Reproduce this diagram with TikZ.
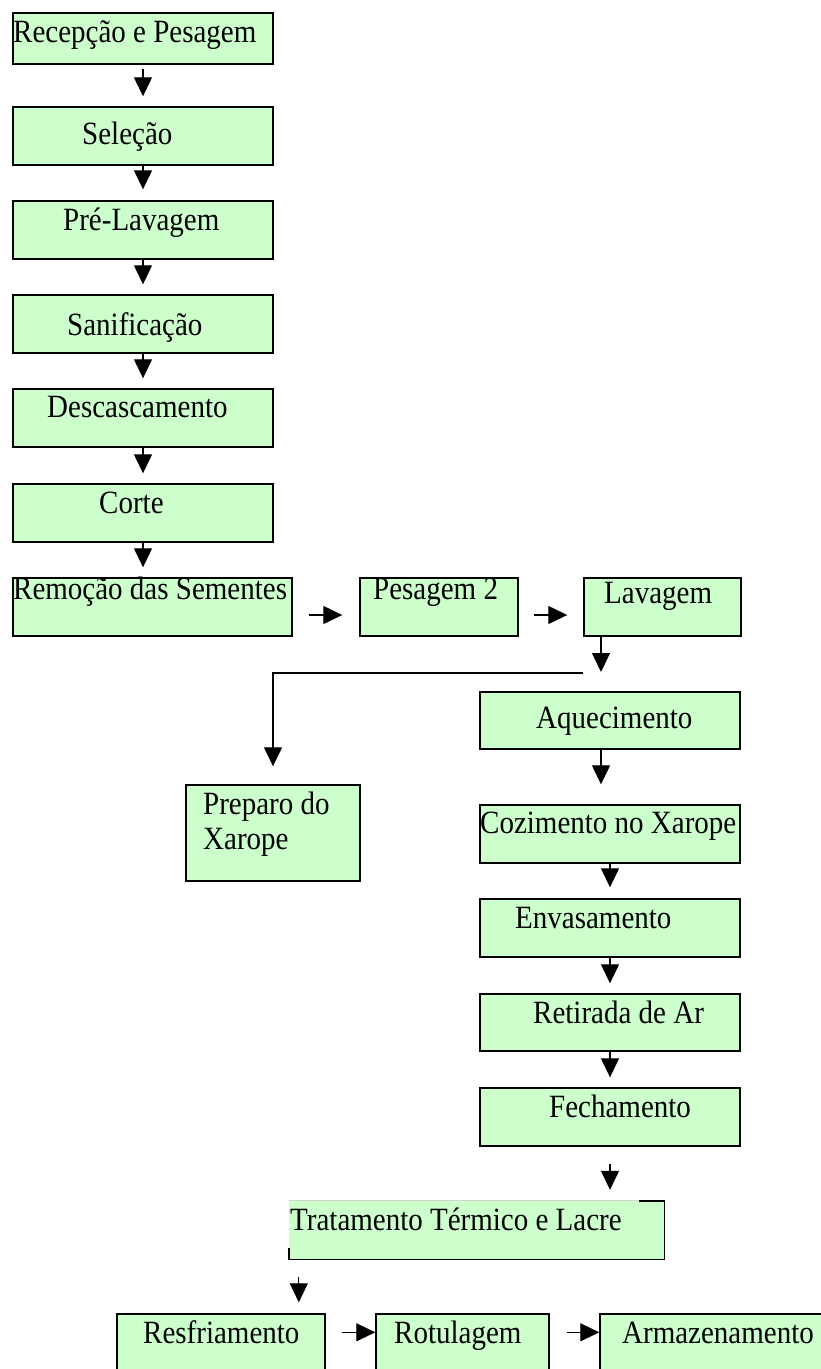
\documentclass[tikz,border=0pt]{standalone}
\usepackage{fontspec}
\usepackage{graphicx}
\setmainfont{Liberation Serif}
\usetikzlibrary{arrows.meta}
\definecolor{boxgreen}{HTML}{CCFFCC}
\newcommand{\tall}[1]{\scalebox{1}[1.12]{#1}}
\tikzset{
  box/.style={draw=black, line width=1.4pt, fill=boxgreen, inner sep=0pt, rectangle},
  boxfill/.style={fill=boxgreen, inner sep=0pt, rectangle},
  lbl/.style={anchor=base west, inner sep=0pt, font=\fontsize{29}{34}\selectfont},
  arr/.style={line width=1.3pt, -{Triangle[length=19pt,width=18pt]}},
  edge/.style={line width=1.4pt, line cap=rect}
}
\begin{document}
\begin{tikzpicture}[x=1pt,y=-1pt]
\useasboundingbox (0,0) rectangle (821,1369);
\clip (0,0) rectangle (821,1369);
\fill[white] (0,0) rectangle (821,1369);
% left column
\node[box, minimum width=260pt, minimum height=51pt] (b1) at (143,38.5) {};
\node[box, minimum width=260pt, minimum height=58pt] (b2) at (143,136) {};
\node[box, minimum width=260pt, minimum height=58pt] (b3) at (143,230) {};
\node[box, minimum width=260pt, minimum height=58pt] (b4) at (143,324) {};
\node[box, minimum width=260pt, minimum height=58pt] (b5) at (143,418) {};
\node[box, minimum width=260pt, minimum height=58pt] (b6) at (143,513) {};
\node[box, minimum width=279pt, minimum height=58pt] (b7) at (152.5,607) {};
\node[box, minimum width=158pt, minimum height=58pt] (b8) at (439,607) {};
\node[box, minimum width=157pt, minimum height=58pt] (b9) at (662.5,607) {};
\node[box, minimum width=174pt, minimum height=96pt] (prep) at (273,833) {};
% right column
\node[box, minimum width=260pt, minimum height=57pt] (aq) at (610,720.5) {};
\node[box, minimum width=260pt, minimum height=58pt] (coz) at (610,834) {};
\node[box, minimum width=260pt, minimum height=58pt] (env) at (610,928) {};
\node[box, minimum width=260pt, minimum height=57pt] (ret) at (610,1022.5) {};
\node[box, minimum width=260pt, minimum height=58pt] (fech) at (610,1117) {};
% Tratamento box with partial border
\node[boxfill, minimum width=375pt, minimum height=58pt] (trat) at (476.5,1230) {};
\draw[gray!35, line width=1pt] (trat.north west) -- ([xshift=-25pt]trat.north east);
\draw[edge] ([xshift=-25pt]trat.north east) -- (trat.north east) -- (trat.south east) -- (trat.south west) -- ([yshift=11pt]trat.south west);
% bottom row
\node[box, minimum width=208pt, minimum height=86pt] (resf) at (221,1357) {};
\node[box, minimum width=173pt, minimum height=86pt] (rot) at (462.5,1357) {};
\node[box, minimum width=240pt, minimum height=86pt] (arm) at (720,1357) {};
% labels
\node[lbl] (t1) at (13,42) {\tall{Recepção e Pesagem}};
\node[lbl] (t2) at (82,144) {\tall{Seleção}};
\node[lbl] (t3) at (63,230) {\tall{Pré-Lavagem}};
\node[lbl] (t4) at (67,335) {\tall{Sanificação}};
\node[lbl] (t5) at (47,417) {\tall{Descascamento}};
\node[lbl] (t6) at (99,513) {\tall{Corte}};
\node[lbl] (t7) at (13,599) {\tall{Remoção das Sementes}};
\node[lbl] (t8) at (373,599) {\tall{Pesagem 2}};
\node[lbl] (t9) at (604,603) {\tall{Lavagem}};
\node[lbl] (tp1) at (203,814) {\tall{Preparo do}};
\node[lbl] (tp2) at (203,849) {\tall{Xarope}};
\node[lbl] (taq) at (536,728) {\tall{Aquecimento}};
\node[lbl] (tcoz) at (480,833) {\tall{Cozimento no Xarope}};
\node[lbl] (tenv) at (515,928) {\tall{Envasamento}};
\node[lbl] (tret) at (533,1023) {\tall{Retirada de Ar}};
\node[lbl] (tfech) at (549,1117) {\tall{Fechamento}};
\node[lbl] (ttrat) at (290,1230) {\tall{Tratamento Térmico e Lacre}};
\node[lbl] (tresf) at (143,1343) {\tall{Resfriamento}};
\node[lbl] (trot) at (394,1343) {\tall{Rotulagem}};
\node[lbl] (tarm) at (622,1343) {\tall{Armazenamento}};
% connectors
\draw[arr, shorten <=4pt, shorten >=10pt] (b1.south) -- (b2.north);
\draw[arr, shorten >=11pt] (b2.south) -- (b3.north);
\draw[arr, shorten >=10pt] (b3.south) -- (b4.north);
\draw[arr, shorten >=10pt] (b4.south) -- (b5.north);
\draw[arr, shorten >=10pt] (b5.south) -- (b6.north);
\draw[arr, shorten >=10pt] (b6.south) -- (b6.south |- b7.north);
\draw[arr, shorten <=16pt, shorten >=17pt] ([yshift=-8pt]b7.east) -- ([yshift=-8pt]b8.west);
\draw[arr, shorten <=15pt, shorten >=16pt] ([yshift=-8pt]b8.east) -- ([yshift=-8pt]b9.west);
\coordinate (split) at (601,672);
\coordinate (branch) at (583,673);
\draw[arr] ([xshift=-61.5pt]b9.south) -- (split);
\draw[arr, shorten >=18pt] (branch) -| (prep.north);
\draw[arr, shorten >=20pt] ([xshift=-9pt]aq.south) -- ([xshift=-9pt]coz.north);
\draw[arr, shorten >=11pt] (coz.south) -- (env.north);
\draw[arr, shorten >=10pt] (env.south) -- (ret.north);
\draw[arr, shorten >=10pt] (ret.south) -- (fech.north);
\draw[arr, shorten <=17pt, shorten >=11pt] (fech.south) -- (fech.south |- trat.north);
\draw[arr, shorten <=18pt, shorten >=11pt] ([xshift=10pt]trat.south west) -- ([xshift=10pt]trat.south west |- resf.north);
\draw[arr, shorten <=16pt] ([yshift=-19pt]resf.north east) -- ([yshift=-19pt]rot.north west);
\draw[arr, shorten <=17pt] ([yshift=-19pt]rot.north east) -- ([yshift=-19pt]arm.north west);
\end{tikzpicture}
\end{document}
